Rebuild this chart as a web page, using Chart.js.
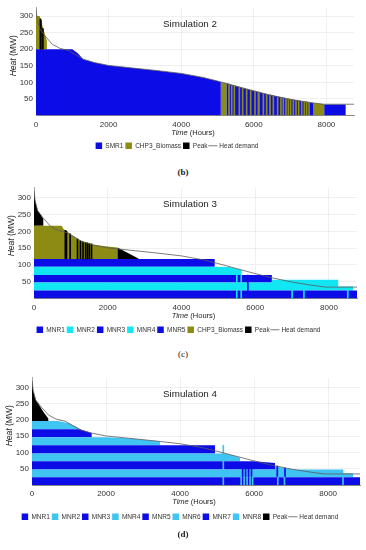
<!DOCTYPE html>
<html lang="en">
<head>
<meta charset="utf-8">
<title>Heat dispatch - Simulations 2 to 4</title>
<script src="https://cdn.jsdelivr.net/npm/chart.js@4.4.1/dist/chart.umd.min.js"></script>
<style>
    html, body { margin: 0; padding: 0; background: #ffffff; }
    #page { position: relative; width: 366px; height: 550px; overflow: hidden; }
    #page canvas { position: absolute; left: 0; }
    .caption {
        position: absolute; left: 0; width: 366px; text-align: center;
        font-family: 'Liberation Serif', 'DejaVu Serif', serif;
        font-size: 9px; line-height: 10px; color: #222;
    }
</style>
</head>
<body>
<div id="page">
    <canvas id="sim2Chart" width="366" height="159" style="top:0px"></canvas>
    <div class="caption" style="top:167px; font-weight:bold;">(b)</div>
    <canvas id="sim3Chart" width="366" height="163" style="top:180px"></canvas>
    <div class="caption" style="top:349px;">(c)</div>
    <canvas id="sim4Chart" width="366" height="160" style="top:370px"></canvas>
    <div class="caption" style="top:529px; font-weight:bold;">(d)</div>
</div>

<script>
// ===================================
// Heat dispatch duration charts
// ===================================

// Tick labels
const hourTicks = [0, 2000, 4000, 6000, 8000];
const heatTicks = [50, 100, 150, 200, 250, 300];

// Heat demand duration curve (same for every simulation)
const heatHours  = [0, 30, 100, 250, 450, 650, 900, 1300, 1600, 2000, 2600, 3300, 4000, 4600, 5000, 5400, 5800, 6400, 7000, 7500, 7900, 8860];
const heatDemand = [322, 292, 262, 240, 215, 203, 196, 170, 160, 151, 144, 136, 127, 115, 104, 92, 80, 63, 49, 40, 34, 34];

// ---- Simulation 2 ----
const sim2Hours = [0, 100, 300, 301, 1000, 1150, 1300, 1600, 2000, 2600,
                   3300, 4000, 4600, 5000, 5090, 5091, 5250, 5251, 5400, 5800,
                   6400, 7000, 7500, 7640, 7641, 7940, 7941, 8530, 8531, 8760];
const sim2SMR1 = [200, 200, 200, 200, 200, 188, 170, 160, 151, 144,
                  136, 127, 115, 104, 101, 0, 0, 97, 92, 80,
                  63, 49, 40, 38, 0, 0, 33, 33, 0, 0];
const sim2CHP3 = [100, 100, 25, 0, 0, 0, 0, 0, 0, 0,
                  0, 0, 0, 0, 0, 101, 97, 0, 0, 0,
                  0, 0, 0, 0, 38, 35, 0, 0, 0, 0];
const sim2Peak = [0, 0, 0, 0, 0, 0, 0, 0, 0, 0,
                  0, 0, 0, 0, 0, 0, 0, 0, 0, 0,
                  0, 0, 0, 0, 0, 0, 0, 0, 0, 0];
// single hours where one unit replaces another
const sim2ChpStripeHours = [5317, 5390, 5464, 5601, 5693, 5803, 5914, 6033, 6125, 6140, 6263, 6354, 6446, 6538,
                            6657, 6749, 6813, 6887, 6950, 7015, 7089, 7163, 7236, 7319, 7392, 7456, 7521];
const sim2ChpStripeFrom  = [0, 0, 0, 0, 0, 0, 0, 0, 0, 0, 0, 0, 0, 0,
                            0, 0, 0, 0, 0, 0, 0, 0, 0, 0, 0, 0, 0];
const sim2ChpStripeTo    = [95, 92, 90, 86, 83, 80, 77, 74, 71, 71, 67, 64, 62, 59,
                            57, 55, 53, 51, 50, 49, 47, 46, 45, 43, 42, 41, 40];
const sim2PeakStripeHours = [120, 135, 190];
const sim2PeakStripeFrom  = [200, 200, 200];
const sim2PeakStripeTo    = [292, 288, 262];

// ---- Simulation 3 ----
const sim3Hours = [0, 30, 100, 200, 252, 253, 750, 800, 1250, 1600,
                   2000, 2260, 2261, 2600, 2830, 2831, 4900, 4901, 5300, 5630,
                   5631, 6450, 6451, 8250, 8251, 8650, 8651, 8760];
const sim3MNR1 = [24, 24, 24, 24, 24, 24, 24, 24, 24, 24,
                  24, 24, 24, 24, 24, 24, 24, 24, 24, 24,
                  24, 24, 24, 24, 24, 24, 24, 24];
const sim3MNR2 = [24, 24, 24, 24, 24, 24, 24, 24, 24, 24,
                  24, 24, 24, 24, 24, 24, 24, 24, 24, 24,
                  24, 24, 32, 32, 12, 12, 0, 0];
const sim3MNR3 = [22, 22, 22, 22, 22, 22, 22, 22, 22, 22,
                  22, 22, 22, 22, 22, 22, 22, 22, 22, 22,
                  22, 22, 0, 0, 0, 0, 0, 0];
const sim3MNR4 = [25, 25, 25, 25, 25, 25, 25, 25, 25, 25,
                  25, 25, 25, 25, 25, 25, 25, 25, 24, 15,
                  0, 0, 0, 0, 0, 0, 0, 0];
const sim3MNR5 = [23, 23, 23, 23, 23, 23, 23, 23, 23, 23,
                  23, 23, 23, 23, 23, 23, 23, 0, 0, 0,
                  0, 0, 0, 0, 0, 0, 0, 0];
const sim3CHP3 = [99, 99, 99, 99, 99, 99, 99, 89, 54, 42,
                  37, 34, 0, 0, 0, 0, 0, 0, 0, 0,
                  0, 0, 0, 0, 0, 0, 0, 0];
const sim3Peak = [105, 75, 45, 30, 20, 0, 0, 0, 0, 0,
                  0, 0, 34, 15, 1, 0, 0, 0, 0, 0,
                  0, 0, 0, 0, 0, 0, 0, 0];
const sim3PeakStripeHours = [850, 880, 980, 1180, 1260, 1330, 1400, 1450, 1500, 1560];
const sim3PeakStripeFrom  = [118, 118, 118, 118, 118, 118, 118, 118, 118, 118];
const sim3PeakStripeTo    = [203, 201, 193, 177, 172, 169, 167, 166, 164, 163];
const sim3MNR2StripeHours = [5500, 5620, 7000, 7320, 8510];
const sim3MNR2StripeFrom  = [0, 0, 0, 0, 0];
const sim3MNR2StripeTo    = [70, 70, 24, 24, 24];
const sim3MNR1StripeHours = [5800];
const sim3MNR1StripeFrom  = [24];
const sim3MNR1StripeTo    = [70];

// ---- Simulation 4 ----
const sim4Hours = [0, 30, 100, 200, 310, 440, 441, 700, 1000, 1297,
                   1298, 1612, 1613, 2000, 2600, 3300, 3457, 3458, 4943, 4944,
                   5200, 5400, 5618, 5619, 6000, 6564, 6565, 7000, 7100, 8410,
                   8411, 8670, 8671, 8860];
const sim4MNR1 = [24, 24, 24, 24, 24, 24, 24, 24, 24, 24,
                  24, 24, 24, 24, 24, 24, 24, 24, 24, 24,
                  24, 24, 24, 24, 24, 24, 24, 24, 24, 24,
                  24, 24, 24, 24];
const sim4MNR2 = [24, 24, 24, 24, 24, 24, 24, 24, 24, 24,
                  24, 24, 24, 24, 24, 24, 24, 24, 24, 24,
                  24, 24, 24, 24, 24, 24, 34, 25, 24, 24,
                  12, 12, 0, 0];
const sim4MNR3 = [25, 25, 25, 25, 25, 25, 25, 25, 25, 25,
                  25, 25, 25, 25, 25, 25, 25, 25, 25, 25,
                  25, 25, 25, 25, 25, 20, 0, 0, 0, 0,
                  0, 0, 0, 0];
const sim4MNR4 = [24, 24, 24, 24, 24, 24, 24, 24, 24, 24,
                  24, 24, 24, 24, 24, 24, 24, 24, 24, 24,
                  24, 19, 11, 0, 0, 0, 0, 0, 0, 0,
                  0, 0, 0, 0];
const sim4MNR5 = [25, 25, 25, 25, 25, 25, 25, 25, 25, 25,
                  25, 25, 25, 25, 25, 25, 25, 25, 25, 0,
                  0, 0, 0, 0, 0, 0, 0, 0, 0, 0,
                  0, 0, 0, 0];
const sim4MNR6 = [25, 25, 25, 25, 25, 25, 25, 25, 25, 25,
                  25, 25, 25, 25, 22, 14, 12, 0, 0, 0,
                  0, 0, 0, 0, 0, 0, 0, 0, 0, 0,
                  0, 0, 0, 0];
const sim4MNR7 = [25, 25, 25, 25, 25, 25, 25, 25, 25, 25,
                  25, 13, 0, 0, 0, 0, 0, 0, 0, 0,
                  0, 0, 0, 0, 0, 0, 0, 0, 0, 0,
                  0, 0, 0, 0];
const sim4MNR8 = [25, 25, 25, 25, 25, 25, 25, 25, 18, 1,
                  0, 0, 0, 0, 0, 0, 0, 0, 0, 0,
                  0, 0, 0, 0, 0, 0, 0, 0, 0, 0,
                  0, 0, 0, 0];
const sim4Peak = [125, 95, 65, 48, 28, 8, 0, 0, 0, 0,
                  0, 0, 0, 0, 0, 0, 0, 0, 0, 0,
                  0, 0, 0, 0, 0, 0, 0, 0, 0, 0,
                  0, 0, 0, 0];
const sim4MNR2StripeHours = [5168, 5650, 5730, 5810, 5890, 5960, 6640, 6820, 8400];
const sim4MNR2StripeFrom  = [0, 0, 0, 0, 0, 0, 0, 0, 0];
const sim4MNR2StripeTo    = [122, 24, 24, 24, 24, 24, 24, 24, 24];
const sim4MNR1StripeHours = [5690, 5770, 5850, 5930, 6626, 6834];
const sim4MNR1StripeFrom  = [24, 24, 24, 24, 24, 24];
const sim4MNR1StripeTo    = [48, 48, 48, 48, 58, 52];

// Colours
const BLUE = '#0c0ce6';
const OLIVE = '#8c8c14';
const CYAN = '#12e6f2';
const SKY = '#40c4f2';
const BLACK = '#000000';
const DEMAND_GREY = '#5c5c5c';
const FONT = "'Liberation Sans', Arial, sans-serif";

Chart.defaults.font.family = FONT;

// draws "italic part" + "plain part" centred on (cx, cy)
function drawMixedText(ctx, italicPart, plainPart, size, cx, cy) {
    ctx.font = `italic ${size}px ${FONT}`;
    const w1 = ctx.measureText(italicPart).width;
    ctx.font = `${size}px ${FONT}`;
    const w2 = ctx.measureText(plainPart).width;
    const x = cx - (w1 + w2) / 2;
    ctx.textAlign = 'left';
    ctx.font = `italic ${size}px ${FONT}`;
    ctx.fillText(italicPart, x, cy);
    ctx.font = `${size}px ${FONT}`;
    ctx.fillText(plainPart, x + w1, cy);
}

// Simulation title inside the plot + axis titles
const panelText = {
    id: 'panelText',
    afterDraw(chart, args, opts) {
        const { ctx, chartArea } = chart;
        ctx.save();
        ctx.fillStyle = '#222';
        ctx.textBaseline = 'middle';
        ctx.textAlign = 'center';
        ctx.font = `9.8px ${FONT}`;
        ctx.fillText(opts.title, 190, chartArea.top + 16);

        drawMixedText(ctx, 'Time', ' (Hours)', 7.5, (chartArea.left + chartArea.right) / 2 - 2, chartArea.bottom + 17);

        ctx.translate(chartArea.left - 22, chartArea.top + 48);
        ctx.rotate(-Math.PI / 2);
        drawMixedText(ctx, 'Heat', ' (MW)', 8.5, 0, 0);
        ctx.restore();
    }
};

function createHeatChart(canvasId, panel) {
    const datasets = [];

    // stacked production areas
    panel.units.forEach((unit, i) => {
        datasets.push({
            label: unit.name,
            data: panel.hours.map((h, k) => ({ x: h, y: unit.values[k] })),
            backgroundColor: unit.color,
            borderColor: unit.color,
            borderWidth: 0,
            pointRadius: 0,
            pointStyle: 'rect',
            fill: i === 0 ? 'origin' : '-1',
            order: 2
        });
    });

    // one-hour switches between units
    panel.stripes.forEach(stripe => {
        const unit = panel.units.find(u => u.name === stripe.unit);
        datasets.push({
            type: 'bar',
            label: '',
            data: stripe.hours.map((h, k) => ({ x: h, y: [stripe.from[k], stripe.to[k]] })),
            backgroundColor: unit.color,
            barThickness: 1,
            stack: 'stripes',
            order: 1
        });
    });

    datasets.push({
        label: 'Heat demand',
        data: heatHours.map((h, k) => ({ x: h, y: heatDemand[k] })),
        borderColor: DEMAND_GREY,
        backgroundColor: DEMAND_GREY,
        borderWidth: 0.8,
        pointRadius: 0,
        pointStyle: 'line',
        fill: false,
        stack: 'demand',
        order: 0
    });

    return new Chart(document.getElementById(canvasId), {
        type: 'line',
        data: { datasets: datasets },
        options: {
            responsive: false,
            animation: false,
            devicePixelRatio: 1,
            events: [],
            layout: {
                padding: { top: panel.padTop, right: panel.padRight, left: 0, bottom: 0 }
            },
            plugins: {
                legend: {
                    position: 'bottom',
                    labels: {
                        usePointStyle: true,
                        boxWidth: 6.5,
                        boxHeight: 6.5,
                        padding: 2,
                        color: '#333',
                        font: { size: 6.5 },
                        filter: item => item.text !== '',
                        sort: (a, b) => a.datasetIndex - b.datasetIndex
                    }
                },
                tooltip: { enabled: false },
                panelText: { title: panel.title }
            },
            scales: {
                x: {
                    type: 'linear',
                    offset: false,
                    min: 0,
                    max: panel.maxHours,
                    afterBuildTicks: scale => { scale.ticks = hourTicks.map(v => ({ value: v })); },
                    afterFit: scale => { scale.height = panel.xAxisHeight; },
                    ticks: {
                        color: '#333',
                        font: { size: 8 },
                        padding: 4,
                        maxRotation: 0,
                        autoSkip: false,
                        callback: value => String(value)
                    },
                    grid: { offset: false, color: '#ececec', lineWidth: 0.8, drawTicks: false },
                    border: { color: '#888', width: 1 }
                },
                y: {
                    stacked: true,
                    min: 0,
                    max: panel.maxHeat,
                    afterBuildTicks: scale => { scale.ticks = heatTicks.map(v => ({ value: v })); },
                    afterFit: scale => { scale.width = panel.yAxisWidth; },
                    ticks: {
                        color: '#333',
                        font: { size: 8 },
                        padding: 3,
                        callback: value => String(value)
                    },
                    grid: { color: '#ececec', lineWidth: 0.8, drawTicks: false },
                    border: { color: '#aaa', width: 1 }
                }
            }
        },
        plugins: [panelText]
    });
}

createHeatChart('sim2Chart', {
    title: 'Simulation 2',
    hours: sim2Hours,
    units: [
        { name: 'SMR1', values: sim2SMR1, color: BLUE },
        { name: 'CHP3_Biomass', values: sim2CHP3, color: OLIVE },
        { name: 'Peak', values: sim2Peak, color: BLACK }
    ],
    stripes: [
        { unit: 'CHP3_Biomass', hours: sim2ChpStripeHours, from: sim2ChpStripeFrom, to: sim2ChpStripeTo },
        { unit: 'Peak', hours: sim2PeakStripeHours, from: sim2PeakStripeFrom, to: sim2PeakStripeTo }
    ],
    maxHours: 8760, maxHeat: 325,
    padTop: 7, padRight: 12, yAxisWidth: 36, xAxisHeight: 25
});

createHeatChart('sim3Chart', {
    title: 'Simulation 3',
    hours: sim3Hours,
    units: [
        { name: 'MNR1', values: sim3MNR1, color: BLUE },
        { name: 'MNR2', values: sim3MNR2, color: CYAN },
        { name: 'MNR3', values: sim3MNR3, color: BLUE },
        { name: 'MNR4', values: sim3MNR4, color: CYAN },
        { name: 'MNR5', values: sim3MNR5, color: BLUE },
        { name: 'CHP3_Biomass', values: sim3CHP3, color: OLIVE },
        { name: 'Peak', values: sim3Peak, color: BLACK }
    ],
    stripes: [
        { unit: 'Peak', hours: sim3PeakStripeHours, from: sim3PeakStripeFrom, to: sim3PeakStripeTo },
        { unit: 'MNR2', hours: sim3MNR2StripeHours, from: sim3MNR2StripeFrom, to: sim3MNR2StripeTo },
        { unit: 'MNR1', hours: sim3MNR1StripeHours, from: sim3MNR1StripeFrom, to: sim3MNR1StripeTo }
    ],
    maxHours: 8760, maxHeat: 330,
    padTop: 7, padRight: 9, yAxisWidth: 34, xAxisHeight: 26
});

createHeatChart('sim4Chart', {
    title: 'Simulation 4',
    hours: sim4Hours,
    units: [
        { name: 'MNR1', values: sim4MNR1, color: BLUE },
        { name: 'MNR2', values: sim4MNR2, color: SKY },
        { name: 'MNR3', values: sim4MNR3, color: BLUE },
        { name: 'MNR4', values: sim4MNR4, color: SKY },
        { name: 'MNR5', values: sim4MNR5, color: BLUE },
        { name: 'MNR6', values: sim4MNR6, color: SKY },
        { name: 'MNR7', values: sim4MNR7, color: BLUE },
        { name: 'MNR8', values: sim4MNR8, color: SKY },
        { name: 'Peak', values: sim4Peak, color: BLACK }
    ],
    stripes: [
        { unit: 'MNR2', hours: sim4MNR2StripeHours, from: sim4MNR2StripeFrom, to: sim4MNR2StripeTo },
        { unit: 'MNR1', hours: sim4MNR1StripeHours, from: sim4MNR1StripeFrom, to: sim4MNR1StripeTo }
    ],
    maxHours: 8860, maxHeat: 330,
    padTop: 5, padRight: 6, yAxisWidth: 32, xAxisHeight: 26.5
});
</script>
</body>
</html>
